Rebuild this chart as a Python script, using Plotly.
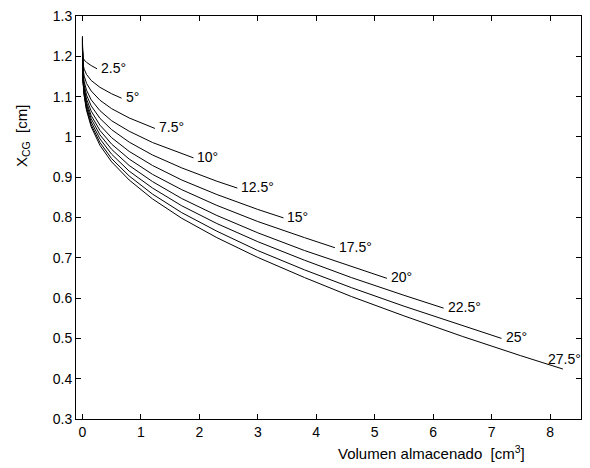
import plotly.graph_objects as go

# Curve labels (tilt angle)
labels = ["2.5°", "5°", "7.5°", "10°", "12.5°", "15°", "17.5°", "20°", "22.5°", "25°", "27.5°"]

# Volume stored [cm3] and X_CG [cm], one pair per angle
x_2_5 = [0, 0.003, 0.01, 0.03, 0.07, 0.15, 0.25]
y_2_5 = [1.215, 1.202, 1.197, 1.191, 1.185, 1.177, 1.169]

x_5 = [0, 0.003, 0.01, 0.03, 0.07, 0.15, 0.3, 0.5, 0.67]
y_5 = [1.219, 1.190, 1.180, 1.168, 1.155, 1.140, 1.123, 1.107, 1.096]

x_7_5 = [0, 0.003, 0.01, 0.03, 0.07, 0.15, 0.3, 0.5, 0.8, 1.24]
y_7_5 = [1.222, 1.182, 1.168, 1.151, 1.133, 1.114, 1.091, 1.070, 1.047, 1.021]

x_10 = [0, 0.003, 0.01, 0.03, 0.07, 0.15, 0.3, 0.5, 0.8, 1.2, 1.7, 1.90]
y_10 = [1.226, 1.176, 1.159, 1.137, 1.116, 1.092, 1.065, 1.040, 1.014, 0.986, 0.958, 0.948]

x_12_5 = [0, 0.003, 0.01, 0.03, 0.07, 0.15, 0.3, 0.5, 0.8, 1.2, 1.7, 2.3, 2.65]
y_12_5 = [1.229, 1.173, 1.153, 1.128, 1.104, 1.077, 1.046, 1.018, 0.987, 0.955, 0.923, 0.890, 0.873]

x_15 = [0, 0.003, 0.01, 0.03, 0.07, 0.15, 0.3, 0.5, 0.8, 1.2, 1.7, 2.3, 3.0, 3.44]
y_15 = [1.233, 1.170, 1.148, 1.121, 1.094, 1.064, 1.029, 0.998, 0.964, 0.929, 0.893, 0.857, 0.820, 0.799]

x_17_5 = [0, 0.003, 0.01, 0.03, 0.07, 0.15, 0.3, 0.5, 0.8, 1.2, 1.7, 2.3, 3.0, 3.8, 4.32]
y_17_5 = [1.236, 1.168, 1.144, 1.115, 1.086, 1.053, 1.016, 0.982, 0.945, 0.907, 0.869, 0.830, 0.790, 0.750, 0.725]

x_20 = [0, 0.003, 0.01, 0.03, 0.07, 0.15, 0.3, 0.5, 0.8, 1.2, 1.7, 2.3, 3.0, 3.8, 4.6, 5.21]
y_20 = [1.240, 1.167, 1.142, 1.111, 1.080, 1.045, 1.005, 0.969, 0.929, 0.889, 0.847, 0.805, 0.762, 0.718, 0.678, 0.649]

x_22_5 = [0, 0.003, 0.01, 0.03, 0.07, 0.15, 0.3, 0.5, 0.8, 1.2, 1.7, 2.3, 3.0, 3.8, 4.6, 5.5, 6.18]
y_22_5 = [1.243, 1.167, 1.140, 1.107, 1.074, 1.037, 0.995, 0.957, 0.915, 0.873, 0.829, 0.785, 0.740, 0.694, 0.651, 0.607, 0.575]

x_25 = [0, 0.003, 0.01, 0.03, 0.07, 0.15, 0.3, 0.5, 0.8, 1.2, 1.7, 2.3, 3.0, 3.8, 4.6, 5.5, 6.5, 7.17]
y_25 = [1.247, 1.167, 1.138, 1.104, 1.069, 1.030, 0.986, 0.946, 0.903, 0.858, 0.812, 0.766, 0.718, 0.670, 0.626, 0.580, 0.531, 0.500]

x_27_5 = [0, 0.003, 0.01, 0.03, 0.07, 0.15, 0.3, 0.5, 0.8, 1.2, 1.7, 2.3, 3.0, 3.8, 4.6, 5.5, 6.5, 7.5, 8.22]
y_27_5 = [1.250, 1.167, 1.138, 1.102, 1.066, 1.025, 0.979, 0.938, 0.893, 0.846, 0.798, 0.750, 0.701, 0.651, 0.604, 0.556, 0.505, 0.457, 0.424]

x_ticks = [0, 1, 2, 3, 4, 5, 6, 7, 8]
y_ticks = [0.3, 0.4, 0.5, 0.6, 0.7, 0.8, 0.9, 1.0, 1.1, 1.2, 1.3]
y_ticktext = ["0.3", "0.4", "0.5", "0.6", "0.7", "0.8", "0.9", "1", "1.1", "1.2", "1.3"]

xs = [x_2_5, x_5, x_7_5, x_10, x_12_5, x_15, x_17_5, x_20, x_22_5, x_25, x_27_5]
ys = [y_2_5, y_5, y_7_5, y_10, y_12_5, y_15, y_17_5, y_20, y_22_5, y_25, y_27_5]

FONT = "Liberation Sans, Arial, sans-serif"

fig = go.Figure()
for xv, yv, lab in zip(xs, ys, labels):
    fig.add_trace(go.Scatter(x=xv, y=yv, mode="lines", name=lab,
                             line=dict(color="black", width=1), showlegend=False,
                             hoverinfo="skip"))

annotations = []
for i, (xv, yv, lab) in enumerate(zip(xs, ys, labels)):
    last = (i == len(labels) - 1)
    annotations.append(dict(
        x=xv[-1], y=yv[-1], xref="x", yref="y", text=lab, showarrow=False,
        xanchor="center" if last else "left", yanchor="middle",
        xshift=2 if last else 2, yshift=10 if last else 1,
        font=dict(family=FONT, size=14, color="black")))

annotations.append(dict(x=0.703, y=-0.084, xref="paper", yref="paper",
                        text="Volumen almacenado  [cm<sup>3</sup>]", showarrow=False,
                        xanchor="center", yanchor="middle",
                        font=dict(family=FONT, size=15, color="black")))
annotations.append(dict(x=-0.107, y=0.702, xref="paper", yref="paper",
                        text="X<sub>CG</sub>  [cm]", showarrow=False, textangle=-90,
                        xanchor="center", yanchor="middle",
                        font=dict(family=FONT, size=15, color="black")))

axis_common = dict(showline=True, linecolor="black", linewidth=1, mirror="ticks",
                   ticks="inside", ticklen=5, tickcolor="black", tickwidth=1,
                   showgrid=False, zeroline=False,
                   tickfont=dict(family=FONT, size=14, color="black"))

fig.update_layout(
    width=590, height=468,
    margin=dict(l=76, r=9, t=16, b=49),
    paper_bgcolor="white", plot_bgcolor="white",
    xaxis=dict(range=[-0.11, 8.53], tickvals=x_ticks, ticktext=[str(v) for v in x_ticks], **axis_common),
    yaxis=dict(range=[0.3, 1.3], tickvals=y_ticks, ticktext=y_ticktext, **axis_common),
    annotations=annotations,
)

fig.write_html("out.html")
